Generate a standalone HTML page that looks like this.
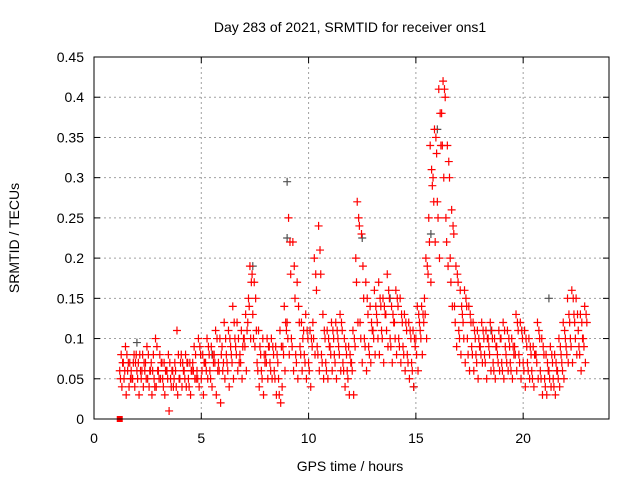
<!DOCTYPE html>
<html><head><meta charset="utf-8"><style>
body{margin:0;background:#fff}
svg text{font-family:"Liberation Sans",sans-serif;font-size:14px;fill:#000}
</style></head><body>
<svg id="chart" width="640" height="480" viewBox="0 0 640 480" xmlns="http://www.w3.org/2000/svg">
<rect width="640" height="480" fill="#fff"/>
<text x="350" y="32" text-anchor="middle">Day 283 of 2021, SRMTID for receiver ons1</text>
<text x="350" y="471" text-anchor="middle">GPS time / hours</text>
<text transform="translate(19,238) rotate(-90)" text-anchor="middle">SRMTID / TECUs</text>
<g id="grid"></g>
<g id="ticks"></g>
<g id="marks"></g>
<rect x="94" y="57" width="515" height="362" fill="none" stroke="#000" stroke-width="1"/>
</svg>
<script>
const xTicks=[0,5,10,15,20];
const yTicks=[0,0.05,0.1,0.15,0.2,0.25,0.3,0.35,0.4,0.45];
const yTickLabels=["0","0.05","0.1","0.15","0.2","0.25","0.3","0.35","0.4","0.45"];
const tStart=1.2, tStep=0.2;
const seriesA=[.06,.05,.07,.05,.06,.05,.07,.06,.05,.06,.05,.06,.04,.06,.05,.06,.05,.07,.06,.05,.07,.06,.08,.07,.06,.07,.08,.09,.08,.10,.15,.13,.07,.06,.08,.07,.06,.05,.09,.12,.10,.08,.09,.08,.07,.12,.09,.08,.07,.09,.08,.09,.07,.06,.07,.20,.12,.10,.09,.11,.12,.11,.13,.10,.12,.10,.09,.08,.07,.10,.11,.15,.25,.30,.27,.38,.25,.20,.14,.11,.12,.10,.09,.08,.09,.08,.09,.07,.08,.07,.08,.07,.09,.08,.07,.07,.06,.08,.06,.05,.06,.05,.06,.07,.09,.10,.12,.09,.10];
const seriesB=[.08,.09,.07,.08,.07,.08,.09,.07,.10,.08,.07,.08,.06,.11,.08,.08,.07,.09,.10,.08,.10,.09,.11,.10,.12,.11,.14,.12,.11,.13,.19,.17,.11,.10,.10,.10,.09,.11,.14,.25,.22,.17,.12,.13,.11,.20,.24,.13,.11,.12,.12,.13,.10,.09,.11,.27,.23,.17,.14,.16,.17,.15,.18,.14,.16,.15,.13,.12,.11,.14,.14,.20,.34,.36,.41,.42,.34,.26,.19,.16,.16,.14,.12,.11,.12,.11,.12,.10,.11,.12,.11,.10,.13,.12,.11,.10,.09,.12,.10,.08,.09,.08,.10,.12,.15,.16,.15,.13,.14];
const seriesC=[.04,.03,.05,.04,.03,.04,.05,.03,.04,.05,.03,.01,.04,.03,.04,.04,.03,.05,.04,.03,.05,.04,.03,.02,.05,.04,.05,.06,.05,.06,.10,.09,.04,.03,.05,.05,.03,.02,.06,.08,.06,.05,.06,.05,.04,.08,.06,.05,.05,.06,.05,.06,.04,.03,.03,.12,.07,.06,.07,.08,.08,.07,.09,.07,.08,.07,.06,.05,.04,.06,.08,.10,.17,.22,.20,.30,.19,.14,.09,.08,.07,.06,.06,.05,.07,.05,.06,.05,.06,.05,.06,.05,.06,.05,.04,.05,.04,.05,.03,.03,.04,.03,.04,.05,.07,.07,.08,.06,.07];
const seriesD=[.07,.06,.05,.08,.06,.06,.04,.08,.06,.07,.06,.05,.07,.05,.06,.07,.06,.05,.08,.07,.08,.07,.06,.09,.08,.09,.10,.07,.10,.12,.18,.11,.08,.07,.09,.08,.07,.04,.11,.18,.15,.12,.11,.10,.09,.16,.18,.10,.09,.10,.10,.11,.08,.07,.09,.24,.15,.13,.11,.13,.14,.13,.15,.12,.14,.12,.11,.10,.09,.12,.12,.18,.29,.33,.34,.40,.30,.23,.17,.13,.14,.12,.10,.09,.10,.10,.10,.09,.10,.09,.09,.08,.11,.10,.09,.08,.08,.10,.08,.06,.07,.06,.08,.10,.12,.13,.11,.10,.12];
const seriesE=[.05,.06,.04,.07,.05,.06,.05,.06,.04,.05,.04,.05,.06,.04,.07,.05,.04,.06,.05,.06,.06,.05,.07,.06,.07,.06,.07,.08,.07,.09,.14,.10,.06,.05,.07,.06,.05,.03,.08,.10,.09,.07,.08,.07,.06,.10,.08,.07,.06,.08,.07,.08,.06,.05,.06,.17,.10,.09,.08,.10,.10,.10,.11,.09,.10,.09,.08,.07,.06,.08,.10,.13,.22,.27,.25,.34,.22,.17,.12,.10,.10,.08,.08,.07,.08,.07,.08,.06,.07,.06,.07,.06,.08,.07,.06,.06,.05,.07,.05,.04,.05,.04,.05,.06,.08,.09,.10,.08,.09];
const seriesF=[.07,.08,.06,.07,.08,.07,.08,.06,.09,.07,.06,.07,.05,.08,.07,.07,.06,.08,.09,.07,.09,.08,.10,.08,.10,.10,.12,.10,.09,.11,.17,.15,.09,.08,.09,.09,.08,.09,.12,.22,.19,.14,.10,.11,.10,.18,.21,.11,.10,.11,.11,.12,.09,.08,.10,.25,.19,.15,.12,.14,.15,.14,.16,.13,.15,.13,.12,.11,.10,.13,.13,.19,.31,.35,.38,.41,.32,.24,.18,.14,.15,.13,.11,.10,.11,.10,.11,.09,.10,.11,.10,.09,.12,.11,.10,.09,.08,.11,.09,.07,.08,.07,.09,.11,.13,.15,.13,.12,.13];
const greyTimes=[9.0,9.0,7.4,16.0,21.2,12.5,15.7,2.0,13.8,18.5,5.5,14.9];
const greyValues=[.295,.225,.19,.36,.15,.225,.23,.095,.15,.11,.08,.04];
const X=t=>94+t*(515/24), Y=v=>419-v*(362/0.45);
const NS="http://www.w3.org/2000/svg";
const grid=document.getElementById('grid'),ticks=document.getElementById('ticks'),marks=document.getElementById('marks');
function mk(tag,attrs,parent){const e=document.createElementNS(NS,tag);for(const k in attrs)e.setAttribute(k,attrs[k]);parent.appendChild(e);return e;}
xTicks.forEach(t=>{const x=X(t);
 if(t>0){const g=mk('line',{x1:x,y1:57,x2:x,y2:419,stroke:'#a0a0a0','stroke-dasharray':'2,3'},grid);
 
 }
 mk('line',{x1:x,y1:419,x2:x,y2:413,stroke:'#000'},ticks);mk('line',{x1:x,y1:57,x2:x,y2:63,stroke:'#000'},ticks);
 const l=mk('text',{x:x,y:443,'text-anchor':'middle'},ticks);l.textContent=t;
 
 });
yTicks.forEach((v,i)=>{const y=Y(v);
 if(v>0&&v<0.45){const g=mk('line',{x1:94,y1:y,x2:609,y2:y,stroke:'#a0a0a0','stroke-dasharray':'2,3'},grid);
 
 }
 mk('line',{x1:94,y1:y,x2:100,y2:y,stroke:'#000'},ticks);mk('line',{x1:609,y1:y,x2:603,y2:y,stroke:'#000'},ticks);
 const l=mk('text',{x:84,y:y+5,'text-anchor':'end'},ticks);l.textContent=yTickLabels[i];
 
 });
function plus(t,v,c){const x=X(t),y=Y(v);
 const p=mk('path',{d:`M${x-4},${y}h8M${x},${y-4}v8`,stroke:c,'stroke-width':1.2,fill:'none'},marks);
 
 }
greyTimes.forEach((t,i)=>plus(t,greyValues[i],'#505050'));
[[seriesA,0],[seriesE,0.033],[seriesB,0.067],[seriesC,0.1],[seriesF,0.133],[seriesD,0.167]].forEach(([s,off])=>s.forEach((v,i)=>plus(tStart+i*tStep+off,v,'#ff0000')));
const sq=mk('rect',{x:X(1.2)-3,y:Y(0)-3,width:6,height:6,fill:'#ff0000'},marks);


</script>
</body></html>
